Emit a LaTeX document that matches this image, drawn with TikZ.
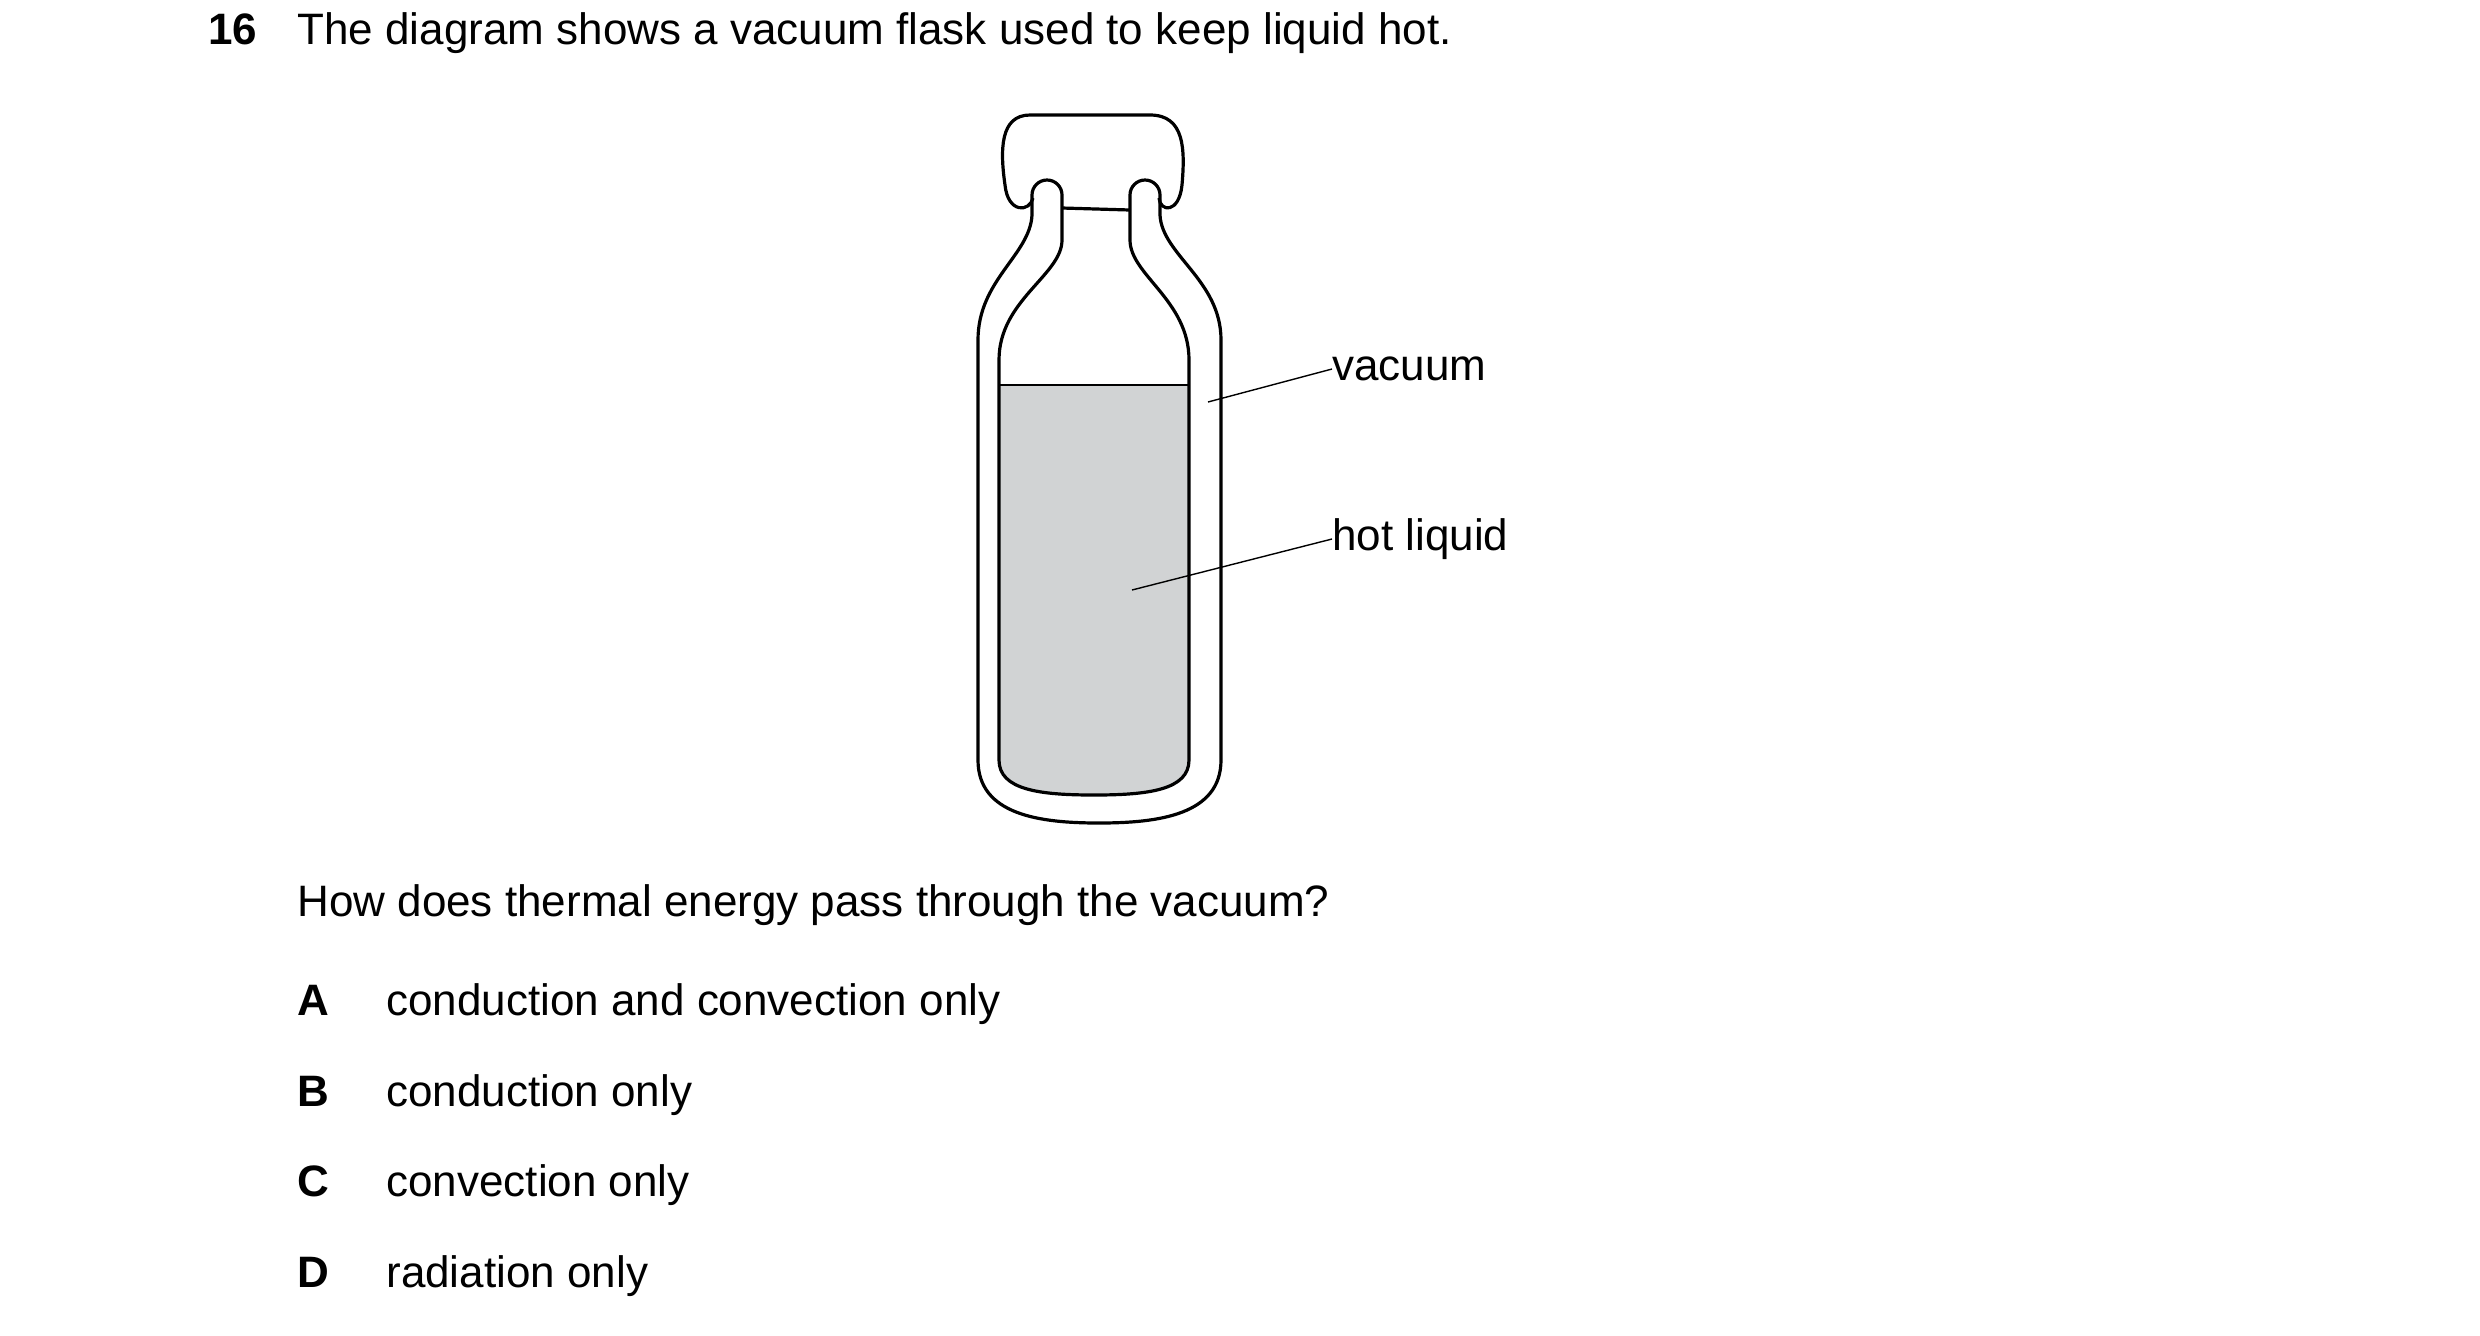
\documentclass[tikz,border=0pt]{standalone}
\usepackage{fontspec}
\setmainfont{Liberation Sans}
\definecolor{liquidgrey}{HTML}{D1D3D4}
\tikzset{flaskline/.style={line width=1.6pt,line join=round},
  leader/.style={line width=0.7pt},
  qtext/.style={anchor=base west,inner sep=0pt,font=\fontsize{22}{26}\selectfont}}
\begin{document}
\begin{tikzpicture}[x=0.5pt,y=-0.5pt]
\useasboundingbox (0,0) rectangle (2480,1335);

% question text
\node[qtext,font=\fontsize{22}{26}\selectfont\bfseries] (num) at (208,44) {16};
\node[qtext] (stem) at (297,44) {The diagram shows a vacuum flask used to keep liquid hot.};

% liquid
\fill[liquidgrey] (999,385) -- (999,760) .. controls (999,790) and (1040,795) .. (1094,795)
  .. controls (1148,795) and (1189,790) .. (1189,760) -- (1189,385) -- cycle;
\draw[line width=1pt] (999,385) -- (1189,385);

% flask walls
\draw[flaskline] (1062,240) -- (1062,195) arc[start angle=0,end angle=-180,radius=15]
  -- (1032,215) .. controls (1030,255) and (978,280) .. (978,340) -- (978,760)
  .. controls (978,815) and (1040,823) .. (1099,823)
  .. controls (1158,823) and (1221,815) .. (1221,760) -- (1221,340)
  .. controls (1221,280) and (1162,255) .. (1160,215) -- (1160,195)
  arc[start angle=360,end angle=180,radius=15] -- (1130,240)
  .. controls (1130,275) and (1189,300) .. (1189,360) -- (1189,760)
  .. controls (1189,790) and (1148,795) .. (1094,795)
  .. controls (1040,795) and (999,790) .. (999,760) -- (999,360)
  .. controls (999,300) and (1062,275) .. (1062,240);
\draw[flaskline] (1062,208) -- (1130,210);

% cap
\draw[flaskline] (1033,198) .. controls (1030,212) and (1008,214) .. (1005,185)
  .. controls (1000,150) and (1000,115) .. (1030,115) -- (1150,115)
  .. controls (1185,115) and (1185,150) .. (1182,185)
  .. controls (1179,214) and (1160,212) .. (1159,198);

% labels
\node[qtext,anchor=west] (vac) at (1332,369) {vacuum};
\node[qtext,anchor=west] (hot) at (1332,539) {hot liquid};
\coordinate (vacend) at (1208,402);
\coordinate (hotend) at (1132,590);
\draw[leader] (vac.west) -- (vacend);
\draw[leader] (hot.west) -- (hotend);

% answers
\node[qtext] (ask) at (297,916) {How does thermal energy pass through the vacuum?};
\foreach \l/\t/\y in {A/conduction and convection only/1015,B/conduction only/1106,
    C/convection only/1196,D/radiation only/1287}{
  \node[qtext,font=\fontsize{22}{26}\selectfont\bfseries] (opt\l) at (297,\y) {\l};
  \node[qtext] (txt\l) at (386,\y) {\t};
}
\end{tikzpicture}
\end{document}
